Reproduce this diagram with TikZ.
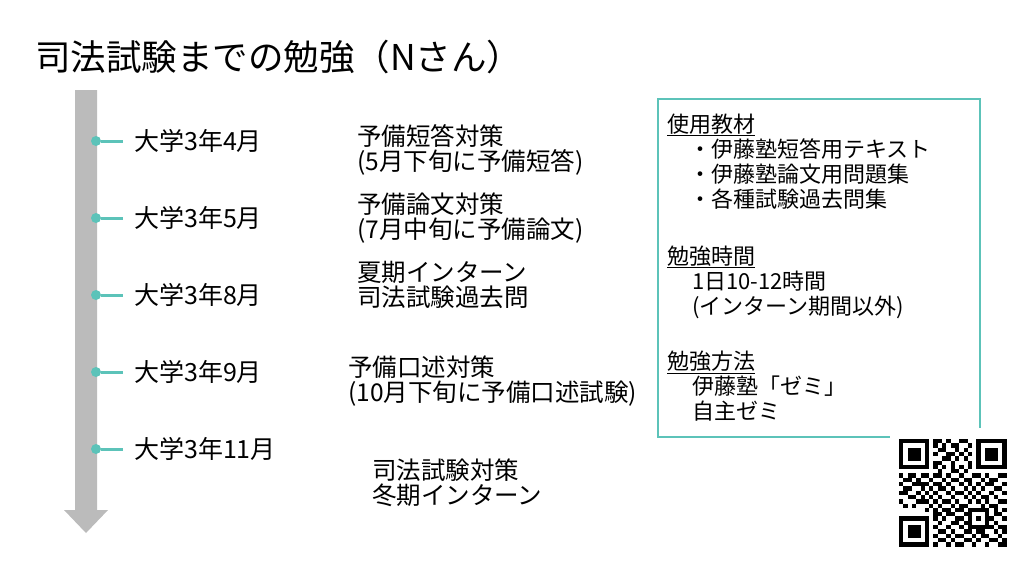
\documentclass[tikz,border=0pt]{standalone}
\usepackage{fontspec}
\setmainfont{Noto Sans CJK JP}
\usepackage{tikz}
\definecolor{mint}{HTML}{5CC3B9}
\definecolor{bargray}{HTML}{BBBBBB}
\tikzset{
  mdot/.style={circle,fill=mint,inner sep=0pt,minimum size=10pt},
  month/.style={anchor=west,inner xsep=11pt,inner ysep=0pt,font=\fontsize{25}{25}\selectfont},
  plan/.style={anchor=west,align=left,inner sep=0pt,font=\fontsize{24.5}{25}\selectfont},
  memo/.style={anchor=west,align=left,inner sep=0pt,font=\fontsize{22}{25}\selectfont},
  tick/.style={mint,line width=3pt},
  memobox/.style={mint,line width=2pt}
}
\newcommand{\drawmonth}[3]{
  \node[mdot] (d#1) at (96,#2) {};
  \node[month] (m#1) at (123,#2) {大学3年#3月};
  \draw[tick] (d#1) -- (m#1);
}
\newcommand{\drawfinder}[2]{
  \fill (#1,#2) rectangle ++(7,7);
  \fill[white] (#1+1,#2+1) rectangle ++(5,5);
  \fill (#1+2,#2+2) rectangle ++(3,3);
}

\begin{document}
\begin{tikzpicture}[x=1pt,y=-1pt]
  \useasboundingbox (0,0) rectangle (1036,566);

  \node[anchor=west,inner sep=0pt,font=\fontsize{35.5}{36}\selectfont] (title) at (35,57) {司法試験までの勉強（Nさん）};

  % time bar
  \fill[bargray] (75,90) -- (97,90) -- (97,510) -- (108,510) -- (86,533) -- (64,510) -- (75,510) -- cycle;

  \drawmonth{apr}{141}{4}
  \drawmonth{may}{218}{5}
  \drawmonth{aug}{295}{8}
  \drawmonth{sep}{372}{9}
  \drawmonth{nov}{449}{11}

  \node[plan] (tanto) at (357,149.5) {予備短答対策\\(5月下旬に予備短答)};
  \node[plan] (ronbun) at (357,218.5) {予備論文対策\\(7月中旬に予備論文)};
  \node[plan] (summer) at (357,285) {夏期インターン\\司法試験過去問};
  \node[plan] (koujutsu) at (348,381.5) {予備口述対策\\(10月下旬に予備口述試験)};
  \node[plan] (winter) at (372,482.5) {司法試験対策\\冬期インターン};

  % memo box
  \draw[memobox] (658,99) rectangle (980,437);
  \node[memo] (books) at (667,161.5) {\underline{使用教材}\\
    \hspace*{22pt}・伊藤塾短答用テキスト\\
    \hspace*{22pt}・伊藤塾論文用問題集\\
    \hspace*{22pt}・各種試験過去問集};
  \node[memo] (hours) at (667,282) {\underline{勉強時間}\\
    \hspace*{25pt}1日10-12時間\\
    \hspace*{25pt}(インターン期間以外)};
  \node[memo] (method) at (667,386) {\underline{勉強方法}\\
    \hspace*{25pt}伊藤塾「ゼミ」\\
    \hspace*{25pt}自主ゼミ};

  % qr
  \fill[white] (890,428) rectangle (1018,558);
  \begin{scope}[shift={(899,439)},x=4.3pt,y=-4.3pt]
    \drawfinder{0}{0}
    \drawfinder{18}{0}
    \drawfinder{0}{18}
    \fill (16,16) rectangle ++(5,5);
    \fill[white] (17,17) rectangle ++(3,3);
    \fill (18,18) rectangle ++(1,1);
    \foreach \i in {8,10,...,16}{
      \fill (\i,6) rectangle ++(1.02,1.02);
      \fill (6,\i) rectangle ++(1.02,1.02);
    }
    \foreach \r/\cs in {0/{8,9,11,14,15},1/{8,10,12,13,16},2/{9,10,13,15},3/{8,11,12,14,16},
      4/{10,11,13,15},5/{8,9,12,16},7/{9,12,13,15},
      8/{0,2,3,5,8,9,11,14,17,18,20,23,24},9/{1,2,4,7,10,12,13,15,16,19,21,22},
      10/{0,3,4,5,8,9,11,14,16,18,20,21,24},11/{1,2,5,7,9,10,12,15,17,19,22,23},
      12/{0,1,4,8,11,13,14,16,18,21,24},13/{2,3,5,7,9,12,15,17,19,20,22},
      14/{0,4,5,8,10,11,13,16,18,20,23,24},15/{1,3,7,9,12,14,15,19,21,22},
      16/{8,10,11,13,14,22,24},17/{8,9,11,12,15,22,23},18/{8,10,13,14,21,24},
      19/{9,12,13,15,22},20/{8,11,14,21,23,24},21/{9,10,12,15,16,18,19,22,24},
      22/{8,11,13,14,17,19,20,23},23/{9,10,12,15,16,18,21,22,24},24/{8,11,13,14,17,20,23,24}}{
      \foreach \c in \cs{
        \fill (\c,\r) rectangle ++(1.02,1.02);
      }
    }
  \end{scope}
\end{tikzpicture}
\end{document}
